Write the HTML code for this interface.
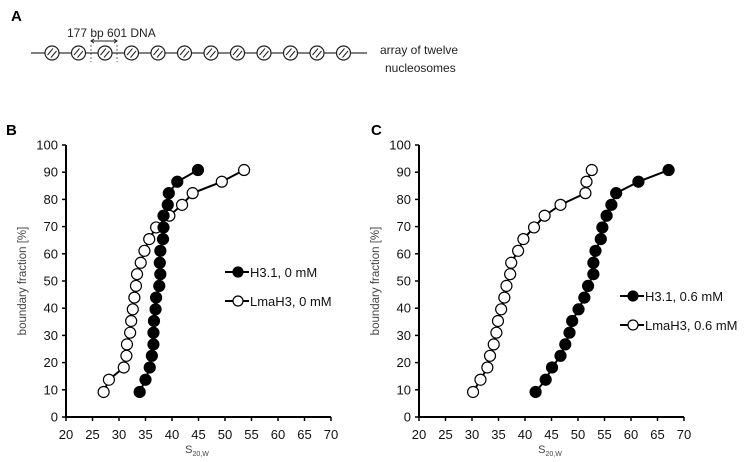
<!DOCTYPE html>
<html><head><meta charset="utf-8"><style>
body{margin:0;background:#fff;}
svg{display:block;font-family:"Liberation Sans",Arial,sans-serif;}
</style></head><body>
<svg id="fig" width="747" height="462" viewBox="0 0 747 462" xmlns="http://www.w3.org/2000/svg">
<g>
<text x="11" y="21" font-size="15" font-weight="bold">A</text>
<text x="67" y="37" font-size="12" fill="#222">177 bp 601 DNA</text>
<line x1="91" y1="41" x2="117" y2="41" stroke="#222" stroke-width="1"/>
<path d="M94,39 L91,41 L94,43 M114,39 L117,41 L114,43" stroke="#222" fill="none"/>
<line x1="91" y1="45" x2="91" y2="62" stroke="#666" stroke-dasharray="2,2"/>
<line x1="117" y1="45" x2="117" y2="62" stroke="#666" stroke-dasharray="2,2"/>
<line x1="31" y1="53" x2="367" y2="53" stroke="#333" stroke-width="1.2"/>
<g id="nucs"></g>
<text x="380" y="54" font-size="12" fill="#222">array of twelve</text>
<text x="385" y="72" font-size="12" fill="#222">nucleosomes</text>
</g>
<text x="6" y="135" font-size="15" font-weight="bold">B</text>
<text x="371" y="135" font-size="15" font-weight="bold">C</text>
<g id="chartB"></g>
<g id="chartC"></g>
</svg>
<script>
const yVals = [9.2,13.7,18.2,22.5,26.7,31.0,35.3,39.6,43.9,48.2,52.5,56.7,61.1,65.4,69.7,74.0,78.0,82.3,86.5,90.8];
const bFilledX = [33.9,35.0,35.8,36.2,36.5,36.5,36.6,36.9,37.0,37.6,37.8,37.7,37.8,38.3,38.4,38.4,39.2,39.4,41.0,44.9];
const bOpenX = [27.1,28.1,30.9,31.4,31.5,32.1,32.3,32.6,32.9,33.2,33.4,34.1,34.8,35.7,37.0,39.5,41.9,43.9,49.4,53.6];
const cFilledX = [42.0,43.9,45.1,46.7,47.6,48.4,48.9,50.1,51.2,51.9,52.9,52.9,53.3,54.3,54.6,55.4,56.3,57.2,61.4,67.1];
const cOpenX = [30.2,31.6,32.9,33.4,34.1,34.6,34.9,35.5,36.1,36.5,37.2,37.4,38.7,39.7,41.7,43.7,46.7,51.4,51.6,52.6];
const xTicks = [20,25,30,35,40,45,50,55,60,65,70];
const yTicks = [0,10,20,30,40,50,60,70,80,90,100];
const legendB = ["H3.1, 0 mM","LmaH3, 0 mM"];
const legendC = ["H3.1, 0.6 mM","LmaH3, 0.6 mM"];

const NS="http://www.w3.org/2000/svg";
function mk(tag,attrs,parent){const e=document.createElementNS(NS,tag);for(const k in attrs)e.setAttribute(k,attrs[k]);parent.appendChild(e);return e;}

// nucleosomes
const nucG=document.getElementById('nucs');
for(let i=0;i<12;i++){
  const cx=52+i*26.5;
  const c=mk('circle',{cx:cx,cy:53,r:7,fill:'#fff',stroke:'#222','stroke-width':1.2},nucG);
  
  
  mk('line',{x1:cx-4.5,y1:55,x2:cx+1,y2:48.5,stroke:'#222','stroke-width':1},nucG);
  mk('line',{x1:cx-1,y1:57.5,x2:cx+4.5,y2:51,stroke:'#222','stroke-width':1},nucG);
}

function chart(g,x0,legY,legX,filled,open,labels){
  const xs=v=>x0+(v-20)*5.3;
  const ys=v=>417-v*2.72;
  const ax=mk('path',{d:`M${x0},${ys(100)} L${x0},${ys(0)} L${xs(70)},${ys(0)}`,stroke:'#000','stroke-width':2,fill:'none'},g);
  
  
  yTicks.forEach(t=>{
    mk('line',{x1:x0-4,y1:ys(t),x2:x0,y2:ys(t),stroke:'#000','stroke-width':1.5},g);
    const tx=mk('text',{x:x0-8,y:ys(t)+4.5,'font-size':13,'text-anchor':'end',fill:'#111'},g);
    tx.textContent=t;
    
    
  });
  xTicks.forEach(t=>{
    mk('line',{x1:xs(t),y1:ys(0),x2:xs(t),y2:ys(0)+4,stroke:'#000','stroke-width':1.5},g);
    const tx=mk('text',{x:xs(t),y:439,'font-size':13,'text-anchor':'middle',fill:'#111'},g);
    tx.textContent=t;
    
    
  });
  const xt=mk('text',{x:x0+131,y:453,'font-size':11,fill:'#444','text-anchor':'middle'},g);
  xt.innerHTML='S<tspan font-size="7" dy="3">20,W</tspan>';
  
  
  const yt=mk('text',{x:0,y:0,'font-size':11.5,fill:'#444','text-anchor':'middle',transform:`translate(${x0-40},${ys(50)}) rotate(-90)`},g);
  yt.textContent='boundary fraction [%]';
  
  
  [[open,'#fff'],[filled,'#000']].forEach(([xsArr,fill])=>{
    const d=xsArr.map((v,i)=>(i?'L':'M')+xs(v)+','+ys(yVals[i])).join(' ');
    const l=mk('path',{d:d,stroke:'#000','stroke-width':2,fill:'none'},g);
    
    
    xsArr.forEach((v,i)=>{
      const c=mk('circle',{cx:xs(v),cy:ys(yVals[i]),r:5.5,fill:fill,stroke:'#000','stroke-width':1.2},g);
      
      
    });
  });
  labels.forEach((lab,i)=>{
    const y=legY+i*29;
    mk('line',{x1:legX,y1:y,x2:legX+24,y2:y,stroke:'#000','stroke-width':2},g);
    mk('circle',{cx:legX+13,cy:y,r:5,fill:i?'#fff':'#000',stroke:'#000','stroke-width':1.2},g);
    const t=mk('text',{x:legX+25,y:y+5,'font-size':13,fill:'#111'},g);
    t.textContent=lab;
    
    
  });
}
chart(document.getElementById('chartB'),66,272,225,bFilledX,bOpenX,legendB);
chart(document.getElementById('chartC'),419,296,620,cFilledX,cOpenX,legendC);
</script>
</body></html>
